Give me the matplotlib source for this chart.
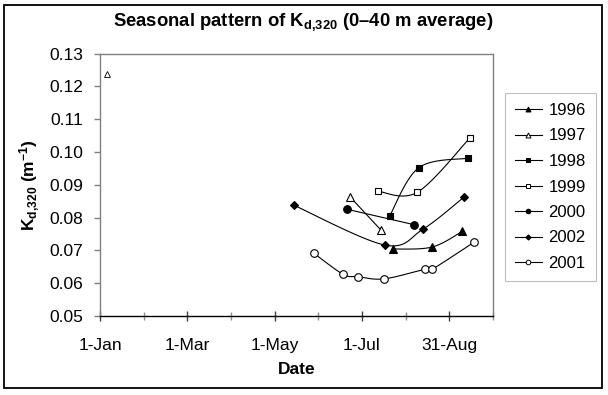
import matplotlib
matplotlib.use('Agg')
import matplotlib.pyplot as plt
import numpy as np
from matplotlib.lines import Line2D
from matplotlib.patches import Rectangle
from matplotlib.ticker import MultipleLocator, FixedLocator, FixedFormatter

plt.rcParams['font.family'] = ['Liberation Sans', 'DejaVu Sans']
plt.rcParams['mathtext.fontset'] = 'custom'
plt.rcParams['mathtext.rm'] = 'Liberation Sans:bold'
plt.rcParams['mathtext.it'] = 'Liberation Sans:bold'
plt.rcParams['mathtext.bf'] = 'Liberation Sans:bold'

# days after 1 Jan, Kd,320 values
days_1996 = [201, 228, 249]
kd_1996 = [0.0704, 0.0710, 0.0758]
days_1997 = [172, 193]
kd_1997 = [0.0862, 0.0762]
days_1997_early = [5]
kd_1997_early = [0.1239]
days_1998 = [199, 219, 253]
kd_1998 = [0.0805, 0.0952, 0.0981]
days_1999 = [191, 218, 254]
kd_1999 = [0.0880, 0.0877, 0.1042]
days_2000 = [170, 216]
kd_2000 = [0.0825, 0.0778]
days_2002 = [133, 196, 222, 250]
kd_2002 = [0.0838, 0.0716, 0.0765, 0.0862]
days_2001 = [147, 167, 177, 195, 223, 228, 257]
kd_2001 = [0.0691, 0.0627, 0.0620, 0.0613, 0.0642, 0.0642, 0.0725]

tick_days = [0, 60, 120, 180, 240]
tick_labels = ['1-Jan', '1-Mar', '1-May', '1-Jul', '31-Aug']
y_ticks = [0.05, 0.06, 0.07, 0.08, 0.09, 0.10, 0.11, 0.12, 0.13]


def smooth(x, y, n=30):
    # Excel-like smoothed line (Bezier through the points), done in pixel-ish space
    sx, sy = 393 / 270, 3280
    P = np.column_stack([np.asarray(x, float) * sx, np.asarray(y, float) * sy])
    if len(P) < 3:
        return x, y
    pts = []
    for i in range(len(P) - 1):
        p0 = P[max(i - 1, 0)]
        p1 = P[i]
        p2 = P[i + 1]
        p3 = P[min(i + 2, len(P) - 1)]
        c1 = p1 + (p2 - p0) / 6
        c2 = p2 - (p3 - p1) / 6
        t = np.linspace(0, 1, n)[:, None]
        seg = (1 - t) ** 3 * p1 + 3 * (1 - t) ** 2 * t * c1 + 3 * (1 - t) * t ** 2 * c2 + t ** 3 * p2
        pts.append(seg if i == 0 else seg[1:])
    pts = np.vstack(pts)
    return pts[:, 0] / sx, pts[:, 1] / sy


fig = plt.figure(figsize=(6.08, 3.95), dpi=100)
ax = fig.add_axes([100 / 608, 1 - 316 / 395, 393 / 608, (316 - 53.5) / 395])

series = [
    ('1996', days_1996, kd_1996, '^', 'black', 6.0),
    ('1997', days_1997, kd_1997, '^', 'white', 6.0),
    ('1998', days_1998, kd_1998, 's', 'black', 5.0),
    ('1999', days_1999, kd_1999, 's', 'white', 5.0),
    ('2000', days_2000, kd_2000, 'o', 'black', 5.5),
    ('2002', days_2002, kd_2002, 'D', 'black', 4.5),
    ('2001', days_2001, kd_2001, 'o', 'white', 5.5),
]

handles = []
for label, d, k, m, fc, ms in series:
    xs, ys = smooth(d, k)
    ax.plot(xs, ys, color='black', lw=0.8, zorder=2)
    ax.plot(d, k, ls='none', marker=m, ms=ms, mfc=fc, mec='black', mew=0.8, zorder=3)
    handles.append(Line2D([], [], color='black', lw=0.8, marker=m, ms=ms * 0.6,
                          mfc=fc, mec='black', mew=0.7, label=label))

ax.plot(days_1997_early, kd_1997_early, ls='none', marker='^', ms=4, mfc='white',
        mec='black', mew=0.6, zorder=3)

ax.set_xlim(0, 270)
ax.set_ylim(0.05, 0.13)
ax.xaxis.set_major_locator(FixedLocator(tick_days))
ax.xaxis.set_major_formatter(FixedFormatter(tick_labels))
ax.xaxis.set_minor_locator(MultipleLocator(30))
ax.set_yticks(y_ticks)
ax.set_yticklabels(['%.2f' % v for v in y_ticks])

for s in ['left', 'top', 'right']:
    ax.spines[s].set_color('#808080')
    ax.spines[s].set_linewidth(1.0)
ax.spines['bottom'].set_color('black')
ax.spines['bottom'].set_linewidth(1.0)

ax.tick_params(axis='x', which='major', direction='inout', length=7, width=1,
               color='#404040', labelsize=12.5, pad=12)
ax.tick_params(axis='x', which='minor', direction='inout', length=6, width=1,
               color='#909090')
ax.tick_params(axis='y', which='major', direction='out', length=4, width=1,
               color='#808080', labelsize=12.5, pad=8)

fig.text(303 / 608, 1 - 22 / 395, r'Seasonal pattern of K$_{\mathrm{d{,}320}}$ (0–40 m average)',
         ha='center', va='center', fontsize=13.3, fontweight='bold')
fig.text(297 / 608, 1 - 370 / 395, 'Date', ha='center', va='center',
         fontsize=12.5, fontweight='bold')
fig.text(30 / 608, 1 - 185 / 395, r'K$_{\mathrm{d{,}320}}$ (m$^{\mathrm{-1}}$)',
         ha='center', va='center', rotation=90, fontsize=12.5, fontweight='bold')

leg = ax.legend(handles=handles, loc='upper left', bbox_to_anchor=(505 / 608, 1 - 93 / 395),
                bbox_transform=fig.transFigure, borderaxespad=0, frameon=True,
                fancybox=False, fontsize=12, handlelength=1.6, handletextpad=0.4,
                labelspacing=0.63, borderpad=0.6)
leg.get_frame().set_edgecolor('#b0b0b0')
leg.get_frame().set_linewidth(0.8)

fig.patches.append(Rectangle((4 / 608, 1 - 388.3 / 395), 597.7 / 608, 383.8 / 395,
                             transform=fig.transFigure, fill=False, ec='black', lw=1.3))

fig.savefig('out.png', dpi=100)
